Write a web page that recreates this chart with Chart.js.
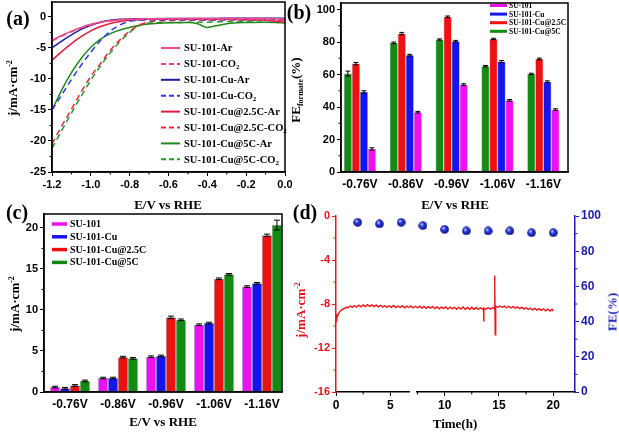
<!DOCTYPE html>
<html><head><meta charset="utf-8">
<script src="https://cdn.jsdelivr.net/npm/chart.js@4.4.1/dist/chart.umd.min.js"></script>
<style>
html,body{margin:0;padding:0;background:#fff;overflow:hidden;}
body{width:619px;height:432px;position:relative;font-family:"Liberation Serif","Times New Roman",serif;}
canvas{position:absolute;left:-30px;top:-30px;}
.t{position:absolute;font-weight:bold;white-space:nowrap;line-height:1;}
.lab{font-size:20px;transform:translate(-50%,-50%);}
.ax{font-size:13px;}
.h{transform:translate(-50%,-50%);}
.v{transform:translate(-50%,-50%) rotate(-90deg);}
sup{font-size:8px;vertical-align:5px;}
sub{font-size:8px;vertical-align:-3px;}
</style></head><body>
<canvas id="ca"></canvas><canvas id="cb"></canvas><canvas id="cc"></canvas><canvas id="cd"></canvas>
<div class="t lab" style="left:18px;top:18px">(a)</div>
<div class="t lab" style="left:299px;top:12px">(b)</div>
<div class="t lab" style="left:17px;top:212px">(c)</div>
<div class="t lab" style="left:305px;top:212px">(d)</div>
<div class="t ax h" style="left:168px;top:204px">E/V vs RHE</div>
<div class="t ax v" style="left:12px;top:88px">j/mA·cm<sup>-2</sup></div>
<div class="t ax h" style="left:455px;top:204px">E/V vs RHE</div>
<div class="t ax v" style="left:297px;top:90px">FE<sub>formate</sub>(%)</div>
<div class="t ax h" style="left:163px;top:421px">E/V vs RHE</div>
<div class="t ax v" style="left:14px;top:304px">j/mA·cm<sup>-2</sup></div>
<div class="t ax v" style="left:300px;top:310px;color:#e8141e">j/mA·cm<sup>-2</sup></div>
<div class="t ax v" style="left:612px;top:312px;color:#1c1cb0">FE(%)</div>
<div class="t ax h" style="left:455px;top:423px">Time(h)</div>
<script>
// ---------- DATA ----------
// (a) LSV curves
const lsvPotential = [-1.2,-1.15,-1.1,-1.05,-1.0,-0.95,-0.9,-0.85,-0.8,-0.75,-0.7,-0.6,-0.5,-0.45,-0.4,-0.35,-0.3,-0.2,-0.1,-0.05,0];
const su101Ar    = [-3.8,-3.0,-2.3,-1.7,-1.2,-0.85,-0.6,-0.45,-0.38,-0.33,-0.3,-0.28,-0.27,-0.27,-0.27,-0.26,-0.25,-0.25,-0.25,-0.28,-0.3];
const su101CO2   = [-3.9,-3.1,-2.4,-1.8,-1.3,-0.9,-0.65,-0.5,-0.42,-0.4,-0.38,-0.38,-0.4,-0.42,-0.45,-0.42,-0.4,-0.4,-0.45,-0.55,-0.5];
const cuAr       = [-5.0,-3.9,-2.9,-2.0,-1.35,-0.85,-0.55,-0.4,-0.33,-0.3,-0.28,-0.26,-0.25,-0.25,-0.25,-0.24,-0.23,-0.22,-0.2,-0.2,-0.2];
const cuCO2      = [-15.0,-12.6,-10.1,-7.8,-5.7,-3.8,-2.3,-1.3,-0.7,-0.55,-0.5,-0.48,-0.47,-0.47,-0.46,-0.45,-0.44,-0.42,-0.4,-0.38,-0.35];
const cu25Ar     = [-7.0,-5.6,-4.3,-3.2,-2.25,-1.55,-1.05,-0.75,-0.55,-0.45,-0.4,-0.38,-0.38,-0.4,-0.42,-0.4,-0.4,-0.45,-0.55,-0.7,-0.85];
const cu25CO2    = [-20.5,-17.6,-14.9,-12.1,-9.6,-7.5,-5.4,-3.7,-2.3,-1.3,-0.8,-0.6,-0.55,-0.55,-0.55,-0.52,-0.5,-0.5,-0.5,-0.5,-0.5];
const cu5Ar      = [-15.0,-11.8,-9.0,-6.7,-4.9,-3.6,-2.7,-2.1,-1.7,-1.35,-1.15,-0.95,-0.9,-1.1,-1.7,-1.4,-1.1,-0.9,-0.85,-0.9,-1.0];
const cu5CO2     = [-21.2,-18.3,-15.5,-12.8,-10.2,-7.9,-5.8,-4.0,-2.5,-1.4,-1.0,-0.9,-0.88,-0.85,-0.85,-0.8,-0.75,-0.7,-0.6,-0.55,-0.5];
const lsvLabels  = ['SU-101-Ar','SU-101-CO₂','SU-101-Cu-Ar','SU-101-Cu-CO₂','SU-101-Cu@2.5C-Ar','SU-101-Cu@2.5C-CO₂','SU-101-Cu@5C-Ar','SU-101-Cu@5C-CO₂'];
const aXTicks = [-1.2,-1.0,-0.8,-0.6,-0.4,-0.2,0.0];
const aYTicks = [0,-5,-10,-15,-20,-25];

// (b) faradaic efficiency of formate
const categories = ['-0.76V','-0.86V','-0.96V','-1.06V','-1.16V'];
const feSU101   = [14.2,36.8,53.8,44.1,38.4];
const feSU101Cu = [49.3,71.9,80.5,68.0,55.6];
const feCu25C   = [66.7,85.2,95.5,81.9,69.6];
const feCu5C    = [60.6,79.5,81.5,65.1,60.4];
const feErrSU101   = [0.7,0.5,0.5,0.5,0.5];
const feErrSU101Cu = [0.7,0.5,0.5,0.6,0.5];
const feErrCu25C   = [0.7,0.7,0.5,0.4,0.5];
const feErrCu5C    = [1.5,0.5,0.4,0.4,0.4];
const bYTicks = [0,20,40,60,80,100];

// (c) current density
const jSU101   = [0.6,1.7,4.3,8.2,12.85];
const jSU101Cu = [0.45,1.7,4.4,8.4,13.25];
const jCu25C   = [0.8,4.25,9.1,13.8,19.1];
const jCu5C    = [1.35,4.1,8.8,14.35,20.35];
const jErrSU101   = [0.1,0.1,0.1,0.1,0.1];
const jErrSU101Cu = [0.1,0.1,0.1,0.1,0.1];
const jErrCu25C   = [0.1,0.1,0.15,0.1,0.15];
const jErrCu5C    = [0.1,0.1,0.1,0.1,0.6];
const cYTicks = [0,5,10,15,20];
const seriesNames = ['SU-101','SU-101-Cu','SU-101-Cu@2.5C','SU-101-Cu@5C'];

// (d) stability
const dTime = [0,0.03,0.08,0.15,0.25,0.35,0.45,0.55,0.65,0.75,0.85,0.95,1.1,1.3,1.5,1.7,1.9,2.1,2.3,2.5,2.7,2.9,3.1,3.3,3.5,3.7,3.9,4.1,4.3,4.5,4.7,4.9,5.1,5.3,5.5,5.7,5.9,6.1,6.3,6.5,6.7,6.9,7.1,7.3,7.5,7.7,7.9,8.1,8.3,8.5,8.7,8.9,9.1,9.3,9.5,9.7,9.9,10.1,10.3,10.5,10.7,10.9,11.1,11.3,11.5,11.7,11.9,12.1,12.3,12.5,12.7,12.9,13.1,13.3,13.5,13.58,13.6,13.62,13.8,14.0,14.2,14.4,14.55,14.6,14.63,14.66,14.7,14.9,15.1,15.3,15.5,15.7,15.9,16.1,16.3,16.5,16.7,16.9,17.1,17.3,17.5,17.7,17.9,18.1,18.3,18.5,18.7,18.9,19.1,19.3,19.5,19.7,19.9,20.0];
const dCurrent = [-8.9,-9.6,-9.4,-9.1,-8.85,-8.7,-8.62,-8.5,-8.48,-8.38,-8.4,-8.28,-8.34,-8.18,-8.3,-8.14,-8.28,-8.1,-8.26,-8.08,-8.24,-8.06,-8.22,-8.08,-8.24,-8.1,-8.26,-8.12,-8.28,-8.14,-8.3,-8.16,-8.3,-8.14,-8.32,-8.18,-8.3,-8.16,-8.34,-8.2,-8.32,-8.18,-8.36,-8.22,-8.34,-8.2,-8.38,-8.22,-8.4,-8.24,-8.38,-8.22,-8.42,-8.26,-8.44,-8.28,-8.4,-8.26,-8.46,-8.28,-8.44,-8.3,-8.48,-8.3,-8.46,-8.28,-8.5,-8.32,-8.48,-8.3,-8.5,-8.32,-8.48,-8.34,-8.46,-8.4,-9.6,-8.4,-8.48,-8.32,-8.46,-8.34,-8.4,-5.4,-6.5,-10.8,-8.2,-8.3,-8.18,-8.32,-8.2,-8.34,-8.22,-8.36,-8.22,-8.38,-8.26,-8.42,-8.3,-8.46,-8.34,-8.5,-8.38,-8.54,-8.4,-8.56,-8.42,-8.58,-8.44,-8.62,-8.46,-8.64,-8.48,-8.66];
const feTime = [2,4,6,8,10,12,14,16,18,20];
const feStab = [96.4,95.5,96.4,94.5,92.4,91.5,91.5,91.5,90.5,90.5];
const dXTicks = [0,5,10,15,20];
const dYTicks = [-16,-12,-8,-4,0];
const dY2Ticks = [0,20,40,60,80,100];

// ---------- SETUP ----------
const OFF = 30, CW = 619 + 2*OFF, CH = 432 + 2*OFF;
const SERIF = '"Liberation Serif","Times New Roman",serif';
Chart.defaults.font.family = '"Liberation Sans",Arial,sans-serif';
Chart.defaults.font.weight = 'bold';
Chart.defaults.color = '#000';
Chart.defaults.animation = false;
Chart.defaults.responsive = false;
Chart.defaults.plugins.legend.display = false;
Chart.defaults.plugins.tooltip.enabled = false;

function drawRich(ctx, text, x, y, size) {
  const parts = text.split('₂');
  ctx.font = `bold ${size}px ${SERIF}`;
  ctx.fillText(parts[0], x, y);
  if (parts.length > 1) {
    const w = ctx.measureText(parts[0]).width;
    ctx.font = `bold ${Math.round(size*0.7)}px ${SERIF}`;
    ctx.fillText('2', x + w, y + size*0.3);
  }
}

Chart.register({
  id: 'frame',
  afterDraw(chart, a, o) {
    if (!o.on) return;
    const c = chart.chartArea, ctx = chart.ctx;
    ctx.save(); ctx.strokeStyle = '#000'; ctx.lineWidth = 1.5;
    ctx.strokeRect(c.left, c.top, c.right - c.left, c.bottom - c.top);
    ctx.restore();
  }
});
Chart.register({
  id: 'minorTicks',
  afterDraw(chart, a, o) {
    if (!o.items) return;
    const ctx = chart.ctx;
    o.items.forEach(it => {
      const s = chart.scales[it.scale];
      ctx.save(); ctx.strokeStyle = it.color || '#000'; ctx.lineWidth = 1;
      ctx.beginPath();
      it.values.forEach(v => {
        const p = s.getPixelForValue(v);
        if (s.isHorizontal()) {
          const y0 = chart.chartArea.bottom;
          ctx.moveTo(p, y0); ctx.lineTo(p, y0 + it.len);
        } else {
          const x0 = s.position === 'left' ? chart.chartArea.left : chart.chartArea.right;
          const d = s.position === 'left' ? -1 : 1;
          ctx.moveTo(x0, p); ctx.lineTo(x0 + d*it.len, p);
        }
      });
      ctx.stroke(); ctx.restore();
    });
  }
});
Chart.register({
  id: 'errBars',
  afterDatasetsDraw(chart) {
    const ctx = chart.ctx;
    chart.data.datasets.forEach((ds, i) => {
      if (!ds.errorBars) return;
      const meta = chart.getDatasetMeta(i);
      const ys = chart.scales[meta.yAxisID];
      ctx.save(); ctx.strokeStyle = '#000'; ctx.lineWidth = 1;
      meta.data.forEach((el, j) => {
        const v = ds.data[j].y, e = ds.errorBars[j];
        const t = ys.getPixelForValue(v + e), b = ys.getPixelForValue(v - e);
        const hw = el.width * 0.3;
        ctx.beginPath();
        ctx.moveTo(el.x, t); ctx.lineTo(el.x, b);
        ctx.moveTo(el.x - hw, t); ctx.lineTo(el.x + hw, t);
        ctx.moveTo(el.x - hw, b); ctx.lineTo(el.x + hw, b);
        ctx.stroke();
      });
      ctx.restore();
    });
  }
});
Chart.register({
  id: 'ownLegend',
  afterDraw(chart, a, o) {
    if (!o.items) return;
    const ctx = chart.ctx;
    ctx.save(); ctx.textBaseline = 'middle'; ctx.textAlign = 'left'; ctx.fillStyle = '#000';
    o.items.forEach((di, k) => {
      const ds = chart.data.datasets[di];
      const y = o.y + k*o.dy + OFF, x = o.x + OFF;
      ctx.strokeStyle = o.fill ? ds.backgroundColor : ds.borderColor;
      ctx.lineWidth = o.lw;
      ctx.setLineDash(ds.borderDash ? [5, 3] : []);
      ctx.beginPath(); ctx.moveTo(x, y); ctx.lineTo(x + o.sw, y); ctx.stroke();
      ctx.setLineDash([]);
      ctx.fillStyle = '#000';
      drawRich(ctx, ds.label, x + o.sw + o.gap, y + 0.5, o.size);
    });
    ctx.restore();
  }
});
Chart.register({
  id: 'axisBreak',
  afterDraw(chart, a, o) {
    if (o.from === undefined) return;
    const s = chart.scales.x, y = chart.chartArea.bottom;
    const x1 = s.getPixelForValue(o.from), x2 = s.getPixelForValue(o.to);
    chart.ctx.clearRect(x1, y - 2, x2 - x1, 4);
  }
});

function fixTicks(arr) { return s => { s.ticks = arr.map(v => ({value: v})); }; }
function makeChart(id, box, cfg) {
  const cv = document.getElementById(id);
  cv.width = CW; cv.height = CH;
  cfg.options.layout = {padding: {
    left: box.l + OFF - box.lw, top: box.t + OFF,
    right: CW - OFF - box.r - (box.rw || 0), bottom: CH - OFF - box.b - box.bh}};
  const sc = cfg.options.scales;
  sc.x.afterFit = s => { s.height = box.bh; };
  sc.y.afterFit = s => { s.width = box.lw; };
  if (sc.y2) sc.y2.afterFit = s => { s.width = box.rw; };
  return new Chart(cv, cfg);
}
function yAxis(min, max, ticks, size, color) {
  return {type: 'linear', min, max, afterBuildTicks: fixTicks(ticks),
    ticks: {font: {size}, padding: 2, color: color || '#000', autoSkip: false},
    grid: {drawOnChartArea: false, drawTicks: true, tickLength: 4, color: color || '#000', lineWidth: 1},
    border: {color: color || '#000', width: 1.5}};
}

// ---------- (a) ----------
const lsvSeries = [su101Ar, su101CO2, cuAr, cuCO2, cu25Ar, cu25CO2, cu5Ar, cu5CO2];
const lsvColors = ['#ee4a86','#f2389c','#1c1c9c','#3434e0','#e01e3c','#e8283c','#1e8a1e','#2a9a2a'];
makeChart('ca', {l: 52, r: 285, t: 2, b: 172, lw: 40, bh: 30}, {
  type: 'line',
  data: {datasets: lsvSeries.map((vals, i) => ({
    label: lsvLabels[i],
    data: lsvPotential.map((x, k) => ({x, y: vals[k]})),
    borderColor: lsvColors[i], borderWidth: 1.5,
    borderDash: i % 2 ? [6, 4] : undefined,
    pointRadius: 0, cubicInterpolationMode: 'monotone', fill: false
  }))},
  options: {
    plugins: {
      frame: {on: true},
      ownLegend: {items: [0,1,2,3,4,5,6,7], x: 161, y: 48, dy: 15.9, sw: 19, gap: 4, lw: 2, size: 10.5},
      minorTicks: {items: [
        {scale: 'x', values: [-1.1,-0.9,-0.7,-0.5,-0.3,-0.1], len: 2.5},
        {scale: 'y', values: [-2.5,-7.5,-12.5,-17.5,-22.5], len: 2.5}]}
    },
    scales: {
      x: {type: 'linear', min: -1.2, max: 0, afterBuildTicks: fixTicks(aXTicks),
        ticks: {font: {size: 11}, padding: 2, autoSkip: false, maxRotation: 0, callback: v => v.toFixed(1)},
        grid: {drawOnChartArea: false, drawTicks: true, tickLength: 4, color: '#000'},
        border: {color: '#000', width: 1.5}},
      y: yAxis(-25, 2.4, aYTicks, 11)
    }
  }
});

// ---------- bar helper ----------
const barColors = {m: '#ee11ee', b: '#1414ee', r: '#ee1111', g: '#138a13'};
function barDs(label, vals, errs, col) {
  return {label, data: vals.map((y, i) => ({x: i + 1, y})), errorBars: errs,
    backgroundColor: col, borderColor: 'rgba(0,0,0,0.45)', borderWidth: 0.6};
}
function catAxis(min, max) {
  return {type: 'linear', min, max, offset: false, afterBuildTicks: fixTicks([1,2,3,4,5]),
    ticks: {font: {size: 12}, padding: 5, autoSkip: false, maxRotation: 0, callback: (v, i) => categories[i]},
    grid: {display: false, offset: false, drawTicks: false, tickLength: 0}, border: {color: '#000', width: 1.5}};
}

// ---------- (b) ----------
makeChart('cb', {l: 341, r: 568, t: 3, b: 172, lw: 40, bh: 30}, {
  type: 'bar',
  data: {datasets: [
    barDs(seriesNames[3], feCu5C, feErrCu5C, barColors.g),
    barDs(seriesNames[2], feCu25C, feErrCu25C, barColors.r),
    barDs(seriesNames[1], feSU101Cu, feErrSU101Cu, barColors.b),
    barDs(seriesNames[0], feSU101, feErrSU101, barColors.m)]},
  options: {
    datasets: {bar: {categoryPercentage: 0.70, barPercentage: 1}},
    plugins: {
      frame: {on: true},
      ownLegend: {items: [3,2,1,0], fill: true, x: 490, y: 5.5, dy: 8.6, sw: 17, gap: 2, lw: 3, size: 7.5},
      minorTicks: {items: [{scale: 'y', values: [10,30,50,70,90], len: 2.5}]}
    },
    scales: {x: catAxis(0.588, 5.537), y: yAxis(0, 104, bYTicks, 11)}
  }
});

// ---------- (c) ----------
makeChart('cc', {l: 44, r: 282, t: 214, b: 392, lw: 40, bh: 30}, {
  type: 'bar',
  data: {datasets: [
    barDs(seriesNames[0], jSU101, jErrSU101, barColors.m),
    barDs(seriesNames[1], jSU101Cu, jErrSU101Cu, barColors.b),
    barDs(seriesNames[2], jCu25C, jErrCu25C, barColors.r),
    barDs(seriesNames[3], jCu5C, jErrCu5C, barColors.g)]},
  options: {
    datasets: {bar: {categoryPercentage: 0.83, barPercentage: 1}},
    plugins: {
      frame: {on: true},
      ownLegend: {items: [0,1,2,3], fill: true, x: 52, y: 224, dy: 12.8, sw: 15, gap: 3, lw: 3.5, size: 10},
      minorTicks: {items: [{scale: 'y', values: [2.5,7.5,12.5,17.5], len: 2.5}]}
    },
    scales: {x: catAxis(0.458, 5.417), y: yAxis(0, 21.7, cYTicks, 11)}
  }
});

// ---------- (d) ----------
const sphere = document.createElement('canvas');
sphere.width = 9; sphere.height = 9;
(() => {
  const g = sphere.getContext('2d');
  const gr = g.createRadialGradient(3.2, 3.0, 0.4, 4.5, 4.5, 4.5);
  gr.addColorStop(0, '#c8d0ff'); gr.addColorStop(0.35, '#2a3ee0'); gr.addColorStop(1, '#0a0c7a');
  g.fillStyle = gr; g.beginPath(); g.arc(4.5, 4.5, 4.3, 0, Math.PI*2); g.fill();
})();
makeChart('cd', {l: 336, r: 575, t: 216, b: 392, lw: 40, rw: 40, bh: 30}, {
  type: 'line',
  data: {datasets: [
    {label: 'j', data: dTime.map((t, i) => ({x: t, y: dCurrent[i]})), yAxisID: 'y',
      borderColor: '#f01414', borderWidth: 1.4, pointRadius: 0, tension: 0},
    {label: 'FE', data: feTime.map((t, i) => ({x: t, y: feStab[i]})), yAxisID: 'y2',
      showLine: false, pointStyle: sphere, pointRadius: 4.5}
  ]},
  options: {
    plugins: {
      axisBreak: {from: 6.85, to: 7.4},
      minorTicks: {items: [
        {scale: 'x', values: [2.5,7.5,12.5,17.5], len: 2.5},
        {scale: 'y', values: [-14,-10,-6,-2], len: 2.5, color: '#e8141e'},
        {scale: 'y2', values: [10,30,50,70,90], len: 2.5, color: '#1c1cb0'}]}
    },
    scales: {
      x: {type: 'linear', min: 0, max: 22, afterBuildTicks: fixTicks(dXTicks),
        ticks: {font: {size: 12}, padding: 2, autoSkip: false, maxRotation: 0},
        grid: {drawOnChartArea: false, drawTicks: true, tickLength: 4, color: '#000'},
        border: {color: '#000', width: 1.5}},
      y: yAxis(-16, 0, dYTicks, 11, '#e8141e'),
      y2: Object.assign(yAxis(0, 100, dY2Ticks, 12, '#1c1cb0'), {position: 'right'})
    }
  }
});
</script>
</body></html>
